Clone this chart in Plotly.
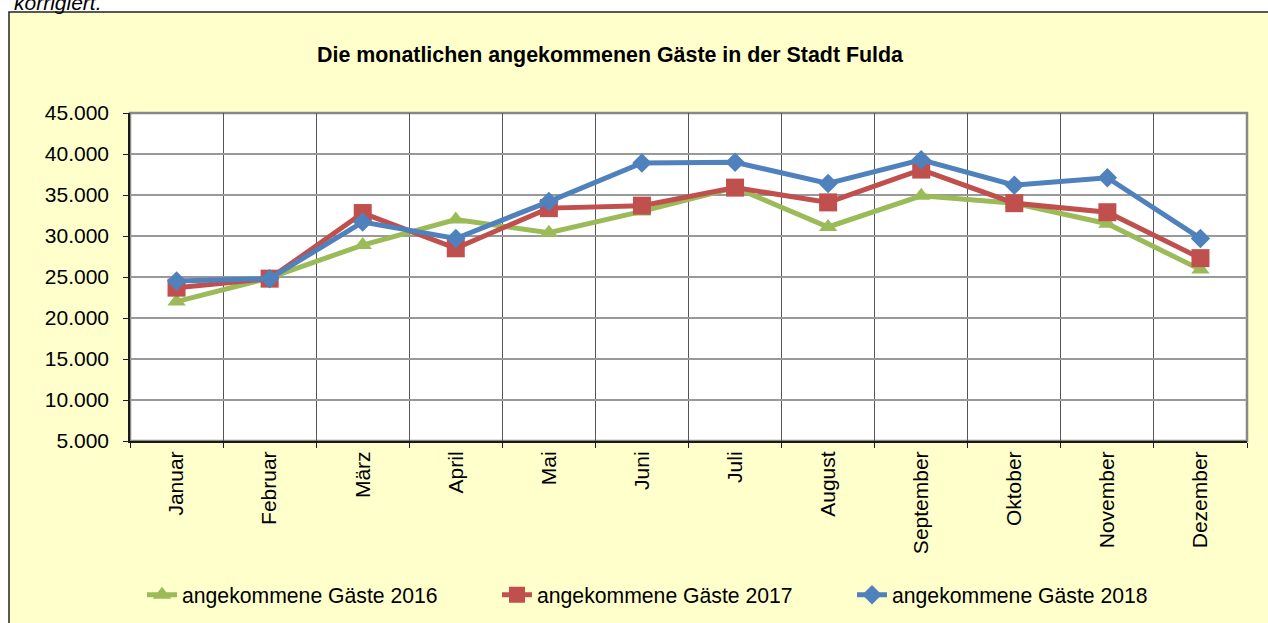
import plotly.graph_objects as go

months = ["Januar", "Februar", "März", "April", "Mai", "Juni", "Juli",
          "August", "September", "Oktober", "November", "Dezember"]
gaeste_2016 = [22000, 24900, 28900, 32000, 30400, 33000, 35900, 31100, 34900, 34000, 31500, 25900]
gaeste_2017 = [23700, 24800, 32800, 28500, 33400, 33700, 35900, 34100, 38100, 34000, 32900, 27300]
gaeste_2018 = [24500, 24800, 31700, 29700, 34200, 38900, 39000, 36400, 39300, 36200, 37100, 29700]
y_ticks = [5000, 10000, 15000, 20000, 25000, 30000, 35000, 40000, 45000]

FONT = "Liberation Sans, Arial, sans-serif"
W, H = 1268, 623
L, R, T, B = 130, 1247, 113, 441


def px_x(p):
    return (p - L) / (R - L)


def px_y(p):
    return (B - p) / (B - T)


fig = go.Figure()
series = [
    ("angekommene Gäste 2016", gaeste_2016, "#9BBB59", "triangle-up", 16),
    ("angekommene Gäste 2017", gaeste_2017, "#C0504D", "square", 18),
    ("angekommene Gäste 2018", gaeste_2018, "#4F81BD", "diamond", 15),
]
for name, vals, col, sym, sz in series:
    fig.add_trace(go.Scatter(
        x=months, y=vals, name=name, mode="lines+markers",
        line=dict(color=col, width=5),
        marker=dict(symbol=sym, size=sz, color=col, line=dict(width=0)),
    ))

fig.update_layout(
    width=W, height=H,
    margin=dict(l=L, r=W - R, t=T, b=H - B, pad=0, autoexpand=False),
    paper_bgcolor="white",
    plot_bgcolor="rgba(0,0,0,0)",
    separators=",.",
    font=dict(family=FONT, size=21, color="black"),
    showlegend=True,
    legend=dict(orientation="h", x=px_x(142), xanchor="left",
                y=px_y(595), yanchor="middle",
                font=dict(size=21.2, family=FONT, color="black"),
                entrywidth=310, entrywidthmode="pixels",
                bgcolor="rgba(0,0,0,0)", traceorder="normal"),
    xaxis=dict(type="category", range=[-0.5, 11.5], autorange=False,
               tickson="boundaries", showgrid=True,
               gridcolor="#555555", gridwidth=1,
               showline=True, linecolor="#1a1a1a", linewidth=2,
               ticks="outside", ticklen=5, tickcolor="#1a1a1a",
               tickangle=-90, tickfont=dict(size=21, family=FONT),
               ticklabelstandoff=0, fixedrange=True, automargin=False),
    yaxis=dict(range=[5000, 45000], autorange=False, tickvals=y_ticks, tickformat=",d",
               showgrid=True, gridcolor="#999999", gridwidth=2,
               showline=True, linecolor="#1a1a1a", linewidth=1.5,
               ticks="outside", ticklen=5, tickcolor="#1a1a1a",
               tickfont=dict(size=21, family=FONT),
               ticklabelstandoff=10, zeroline=False, fixedrange=True,
               automargin=False),
    shapes=[
        dict(type="rect", xref="paper", yref="paper", layer="below",
             x0=px_x(9), x1=px_x(1300), y0=px_y(12), y1=px_y(660),
             fillcolor="#FFFFCC", line=dict(color="#222222", width=1.5)),
        dict(type="rect", xref="paper", yref="paper", layer="below",
             x0=0, x1=1, y0=0, y1=1,
             fillcolor="white", line=dict(color="#888888", width=2.5)),
    ],
    annotations=[
        dict(text="<b>Die monatlichen angekommenen Gäste in der Stadt Fulda</b>",
             xref="paper", yref="paper", x=px_x(610), y=px_y(55),
             xanchor="center", yanchor="middle", showarrow=False,
             font=dict(size=21.4, family=FONT, color="black")),
        dict(text="<i>korrigiert.</i>",
             xref="paper", yref="paper", x=px_x(12), y=px_y(3),
             xanchor="left", yanchor="middle", showarrow=False,
             font=dict(size=21, family=FONT, color="black")),
    ],
)

fig.write_html("out.html", config={"displayModeBar": False},
               post_script="document.body.style.margin='0';")
